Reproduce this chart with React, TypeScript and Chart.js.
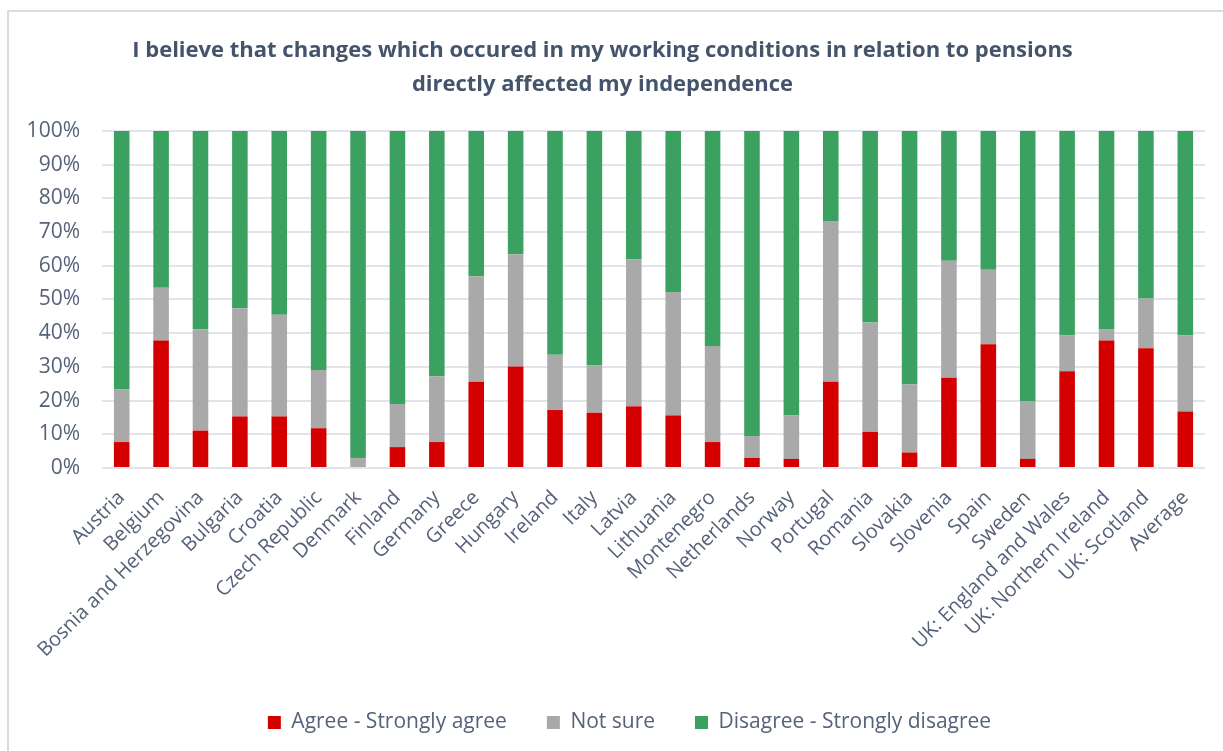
import React, { useEffect, useRef } from "react";
import { Chart, registerables } from "chart.js";

Chart.register(...registerables);

const categories: string[] = [
  "Austria", "Belgium", "Bosnia and Herzegovina", "Bulgaria", "Croatia", "Czech Republic",
  "Denmark", "Finland", "Germany", "Greece", "Hungary", "Ireland", "Italy", "Latvia",
  "Lithuania", "Montenegro", "Netherlands", "Norway", "Portugal", "Romania", "Slovakia",
  "Slovenia", "Spain", "Sweden", "UK: England and Wales", "UK: Northern Ireland",
  "UK: Scotland", "Average",
];

const agree: number[] = [
  7.7, 37.8, 11.1, 15.3, 15.3, 11.8, 0, 6.2, 7.7, 25.6, 30.1, 17.2, 16.4, 18.3,
  15.6, 7.7, 3.0, 2.7, 25.6, 10.7, 4.6, 26.8, 36.7, 2.7, 28.7, 37.8, 35.5, 16.8,
];

const notSure: number[] = [
  15.6, 15.7, 30.1, 32.1, 30.2, 17.3, 3.0, 12.8, 19.5, 31.3, 33.3, 16.4, 14.1, 43.6,
  36.6, 28.5, 6.5, 12.9, 47.7, 32.5, 20.2, 34.7, 22.1, 17.2, 10.6, 3.4, 14.8, 22.5,
];

const disagree: number[] = [
  76.7, 46.5, 58.8, 52.6, 54.5, 70.9, 97.0, 81.0, 72.8, 43.1, 36.6, 66.4, 69.5, 38.1,
  47.8, 63.8, 90.5, 84.4, 26.7, 56.8, 75.2, 38.5, 41.2, 80.1, 60.7, 58.8, 49.7, 60.7,
];

const seriesNames: string[] = ["Agree - Strongly agree", "Not sure", "Disagree - Strongly disagree"];
const titleLines: string[] = [
  "I believe that changes which occured in my working conditions in relation to pensions",
  "directly affected my independence",
];

export default function App() {
  const canvasRef = useRef<HTMLCanvasElement | null>(null);

  useEffect(() => {
    const canvas = canvasRef.current;
    if (!canvas) return;
    const frame = {
      id: "frame",
      beforeDraw(chart: any) {
        const ctx = chart.ctx;
        ctx.save();
        ctx.fillStyle = "#ffffff";
        ctx.fillRect(0, 0, chart.width, chart.height);
        ctx.strokeStyle = "#d9dde3";
        ctx.lineWidth = 2;
        ctx.strokeRect(8, 11, chart.width + 10, chart.height + 10);
        ctx.restore();
        if (chart.legend) {
          chart.legend.left += 27;
          chart.legend.right += 27;
        }
      },
    };
    const textColor = "#56627a";
    const chart = new Chart(canvas, {
      type: "bar",
      data: {
        labels: categories,
        datasets: [
          { label: seriesNames[0], data: agree, backgroundColor: "#d40000", borderWidth: 0 },
          { label: seriesNames[1], data: notSure, backgroundColor: "#a9a9a9", borderWidth: 0 },
          { label: seriesNames[2], data: disagree, backgroundColor: "#3ba160", borderWidth: 0 },
        ],
      },
      options: {
        animation: false,
        responsive: false,
        maintainAspectRatio: false,
        events: [],
        layout: { padding: { left: 0, right: 18, top: 0, bottom: 8 } },
        datasets: { bar: { categoryPercentage: 1, barPercentage: 0.395 } },
        plugins: {
          title: {
            display: true,
            text: titleLines,
            color: "#44546a",
            font: { family: "'Open Sans'", size: 22, weight: "bold", lineHeight: 1.545 },
            padding: { top: 34, bottom: 29 },
          },
          legend: {
            position: "bottom",
            labels: {
              color: textColor,
              font: { family: "'Open Sans'", size: 21 },
              boxWidth: 13,
              boxHeight: 13,
              padding: 40,
            },
          },
          tooltip: { enabled: false },
        },
        scales: {
          x: {
            stacked: true,
            grid: { display: false, drawTicks: false },
            border: { display: false },
            ticks: {
              color: textColor,
              font: { family: "'Open Sans'", size: 20 },
              minRotation: 45,
              maxRotation: 45,
              autoSkip: false,
              padding: 18,
            },
            afterFit(scale: any) {
              scale.height = 204;
            },
          },
          y: {
            stacked: true,
            min: 0,
            max: 100,
            grid: { color: "#e1e4ea", lineWidth: 2, drawTicks: false },
            border: { display: false },
            ticks: {
              stepSize: 10,
              color: textColor,
              font: { family: "'Open Sans'", size: 21 },
              padding: 22,
              callback: (v: any) => v + "%",
            },
            afterFit(scale: any) {
              scale.width = 102;
            },
          },
        },
      },
      plugins: [frame],
    } as any);
    return () => chart.destroy();
  }, []);

  return (
    <div style={{ position: "fixed", left: 0, top: 0, width: 1223, height: 751, background: "#fff" }}>
      <canvas ref={canvasRef} width={1223} height={751} style={{ display: "block" }} />
    </div>
  );
}
